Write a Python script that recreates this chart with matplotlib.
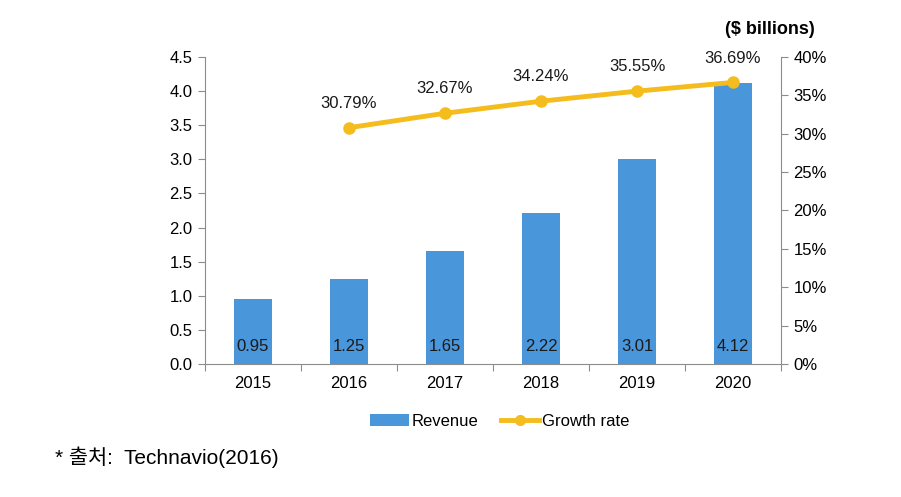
import matplotlib
matplotlib.use("Agg")
import matplotlib.pyplot as plt
from matplotlib.lines import Line2D
from matplotlib.patches import Patch
import numpy as np

plt.rcParams['font.family'] = ['Liberation Sans', 'Noto Sans CJK KR', 'DejaVu Sans']

years = ['2015', '2016', '2017', '2018', '2019', '2020']
revenue = [0.95, 1.25, 1.65, 2.22, 3.01, 4.12]
growth_years = ['2016', '2017', '2018', '2019', '2020']
growth = [30.79, 32.67, 34.24, 35.55, 36.69]

bar_color = '#4A96DB'
line_color = '#F4BC1C'
spine_color = '#8C8C8C'
fs = 12

fig = plt.figure(figsize=(9.01, 4.97), dpi=100)
ax = fig.add_axes([205/901, 1-364/497, (781-205)/901, (364-57)/497])
ax2 = ax.twinx()

x = np.arange(len(years))
ax.bar(x, revenue, width=0.4, color=bar_color, zorder=2)
for xi, v in zip(x, revenue):
    ax.text(xi, 0.25, f'{v:.2f}', ha='center', va='center', fontsize=fs, color='#1a1a1a', zorder=3)

ax.set_xlim(-0.5, len(years) - 0.5)
ax.set_ylim(0, 4.5)
ax.set_yticks(np.arange(0, 4.51, 0.5))
ax.set_yticklabels([f'{v:.1f}' for v in np.arange(0, 4.51, 0.5)])
ax.set_xticks(np.arange(-0.5, len(years), 1.0), minor=False)
ax.set_xticklabels([])
ax.set_xticks(x, minor=True)
ax.set_xticklabels(years, minor=True)
ax.tick_params(axis='x', which='major', length=5, color=spine_color, direction='out')
ax.tick_params(axis='x', which='minor', length=0, pad=9, labelsize=fs)
ax.tick_params(axis='y', length=5, color=spine_color, labelsize=fs, pad=4)

gx = [years.index(g) for g in growth_years]
ax2.plot(gx, growth, color=line_color, lw=3.5, marker='o', ms=8, zorder=4)
for xi, g in zip(gx, growth):
    ax2.text(xi, g + 2.2, f'{g:.2f}%', ha='center', va='bottom', fontsize=fs, color='#1a1a1a')
ax2.set_ylim(0, 40)
ax2.set_yticks(np.arange(0, 41, 5))
ax2.set_yticklabels([f'{v}%' for v in range(0, 41, 5)])
ax2.tick_params(axis='y', length=5, color=spine_color, labelsize=fs, pad=4)

for a in (ax, ax2):
    a.spines['top'].set_visible(False)
    for s in ('left', 'right', 'bottom'):
        a.spines[s].set_color(spine_color)
ax.spines['right'].set_visible(False)
ax2.spines['left'].set_visible(False)
ax2.spines['bottom'].set_visible(False)

fig.text(770/901, 1-30/497, '($ billions)', ha='center', va='center', fontsize=13, fontweight='bold')

handles = [Patch(facecolor=bar_color, edgecolor='none'),
           Line2D([0], [0], color=line_color, lw=3.5, marker='o', ms=7)]
fig.legend(handles, ['Revenue', 'Growth rate'], loc='center', bbox_to_anchor=(500/901, 1-421/497),
           ncol=2, frameon=False, fontsize=fs, handlelength=2.3, handletextpad=0.2, columnspacing=1.3)

fig.text(55/901, 1-457/497, '* 출처:  Technavio(2016)', ha='left', va='center', fontsize=15)

fig.savefig('out.png', dpi=100)
